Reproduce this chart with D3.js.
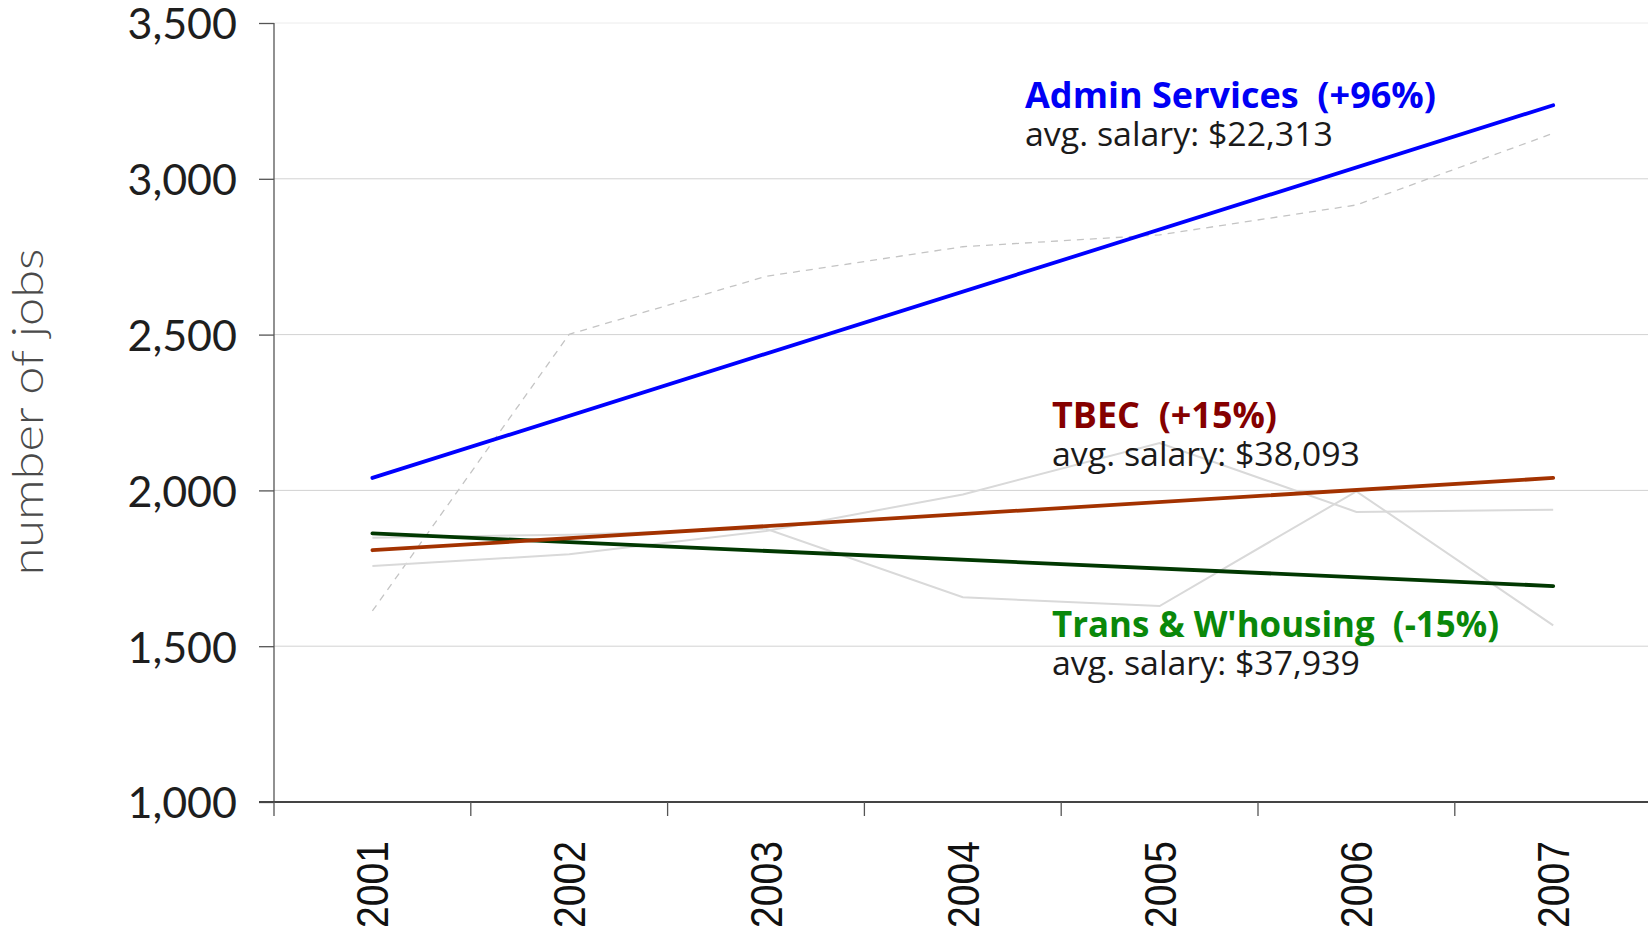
<!doctype html>
<html>
    <head>
        <title>Jobs by sector</title>
        <script src="https://d3js.org/d3.v7.min.js"></script>
        <style type="text/css">
            body { margin: 0; background: #fff; }
            .grid line { stroke: #d2d2d2; stroke-width: 1; }
            .yaxis text { font-family: Lato, "DejaVu Sans", sans-serif; font-size: 43px; fill: #1e1e1e; }
            .xlab { font-family: "Liberation Sans Narrow", "Liberation Sans", Arial, sans-serif; font-size: 45px; fill: #111; }
            .ann-title { font-family: "Open Sans", sans-serif; font-weight: bold; font-size: 36px; }
            .ann-sub { font-family: "Open Sans", sans-serif; font-size: 33px; fill: #1a1a1a; }
        </style>
    </head>
    <body>
        <script>
        var years = ["2001", "2002", "2003", "2004", "2005", "2006", "2007"];
        var yTicks = [1000, 1500, 2000, 2500, 3000, 3500];

        // actual job counts (grey lines)
        var adminJobs = [1613, 2501, 2687, 2782, 2820, 2916, 3146];
        var tbecJobs  = [1757, 1795, 1870, 1987, 2152, 1931, 1938];
        var transJobs = [1848, 1858, 1877, 1657, 1629, 1997, 1567];

        // trend lines, 2001 -> 2007
        var trendYears = ["2001", "2007"];
        var adminTrend = [2040, 3236];
        var tbecTrend  = [1808, 2040];
        var transTrend = [1862, 1693];

        var labels = [
            {name: "Admin Services  (+96%)", salary: "avg. salary: $22,313", color: "#0000f5", x: 1025, y: 108, w: 411},
            {name: "TBEC  (+15%)", salary: "avg. salary: $38,093", color: "#850000", x: 1052, y: 428, w: 225},
            {name: "Trans & W'housing  (-15%)", salary: "avg. salary: $37,939", color: "#0a880a", x: 1052, y: 637, w: 447}
        ];

        var W = 1648, H = 931;
        var svg = d3.select("body").append("svg").attr("width", W).attr("height", H);

        var x = d3.scaleBand().domain(years).range([274, 274 + 7 * 196.8]);
        var y = d3.scaleLinear().domain([1000, 3500]).range([802, 23]);
        var cx = function(d) { return x(d) + x.bandwidth() / 2; };

        // gridlines
        svg.append("g").attr("class", "grid")
            .selectAll("line").data(yTicks).enter().append("line")
                .attr("x1", 274).attr("x2", W)
                .attr("y1", function(d) { return y(d); })
                .attr("y2", function(d) { return y(d); })
                .style("stroke", function(d) { return d == 3500 ? "#ececec" : null; });

        // y axis
        var yAxis = svg.append("g").attr("class", "yaxis")
            .attr("transform", "translate(274,0)")
            .call(d3.axisLeft(y).tickValues(yTicks).tickSize(15).tickPadding(22).tickFormat(d3.format(",")));
        yAxis.select(".domain").attr("stroke", "#555").attr("stroke-width", 1.3).attr("d", "M0,23V802");
        yAxis.selectAll(".tick line").attr("stroke", "#555").attr("stroke-width", 1.3);
        yAxis.selectAll("text").attr("dy", "0.37em");

        // x axis
        svg.append("line").attr("x1", 259).attr("x2", W).attr("y1", 802).attr("y2", 802)
            .attr("stroke", "#444").attr("stroke-width", 2);
        svg.selectAll("line.xtick").data(years).enter().append("line")
            .attr("class", "xtick")
            .attr("x1", function(d) { return x(d); }).attr("x2", function(d) { return x(d); })
            .attr("y1", 802).attr("y2", 816)
            .attr("stroke", "#555").attr("stroke-width", 1.3);
        svg.selectAll("text.xlab").data(years).enter().append("text")
            .attr("class", "xlab")
            .attr("text-anchor", "end")
            .attr("textLength", 87).attr("lengthAdjust", "spacingAndGlyphs")
            .attr("transform", function(d) { return "translate(" + (cx(d) + 16) + ",841) rotate(-90)"; })
            .text(function(d) { return d; });

        // y title
        svg.append("text")
            .attr("transform", "translate(43,412) rotate(-90)")
            .attr("text-anchor", "middle")
            .attr("textLength", 327).attr("lengthAdjust", "spacingAndGlyphs")
            .style("font-family", "Lato, \"DejaVu Sans\", sans-serif")
            .style("font-weight", 300)
            .style("font-size", "43px")
            .style("fill", "#4a4a4a")
            .text("number of jobs");

        var line = d3.line()
            .x(function(d) { return cx(d[0]); })
            .y(function(d) { return y(d[1]); });
        function pairs(xs, vs) { return xs.map(function(d, i) { return [d, vs[i]]; }); }

        // grey data lines
        svg.append("path").attr("d", line(pairs(years, adminJobs)))
            .attr("fill", "none").attr("stroke", "#c4c4c4").attr("stroke-width", 1.3)
            .attr("stroke-dasharray", "7,6");
        [tbecJobs, transJobs].forEach(function(v) {
            svg.append("path").attr("d", line(pairs(years, v)))
                .attr("fill", "none").attr("stroke", "#d9d9d9").attr("stroke-width", 2);
        });

        // trend lines
        var trends = [[transTrend, "#013801"], [tbecTrend, "#a33200"], [adminTrend, "#0000ff"]];
        trends.forEach(function(t) {
            svg.append("path").attr("d", line(pairs(trendYears, t[0])))
                .attr("fill", "none").attr("stroke", t[1]).attr("stroke-width", 3.8)
                .attr("stroke-linecap", "round");
        });

        // annotations
        labels.forEach(function(l) {
            svg.append("text").attr("class", "ann-title")
                .attr("x", l.x).attr("y", l.y).attr("fill", l.color)
                .attr("xml:space", "preserve")
                .attr("textLength", l.w).attr("lengthAdjust", "spacingAndGlyphs")
                .text(l.name);
            svg.append("text").attr("class", "ann-sub")
                .attr("x", l.x).attr("y", l.y + 38)
                .attr("textLength", 308).attr("lengthAdjust", "spacingAndGlyphs")
                .text(l.salary);
        });
        </script>
    </body>
</html>
